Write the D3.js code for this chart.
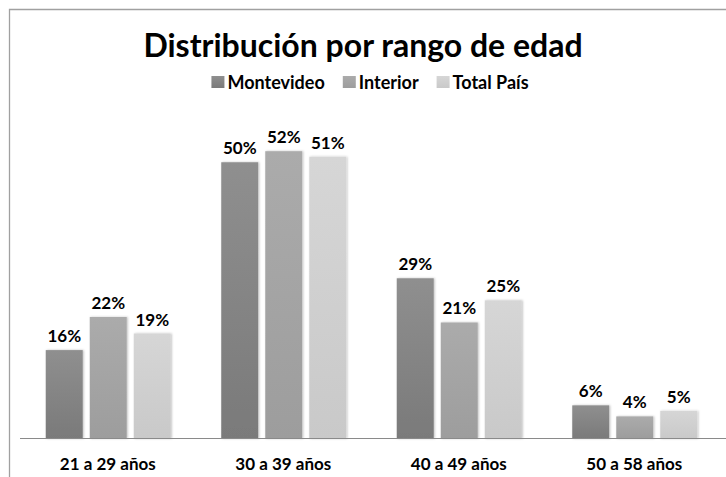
<!DOCTYPE html>
<html><head><meta charset="utf-8">
<script src="https://cdn.jsdelivr.net/npm/d3@7"></script>
<style>body{margin:0;background:#fff}svg{display:block;font-family:Lato,"Open Sans",sans-serif}</style>
</head><body>
<script>
const categories = ["21 a 29 años","30 a 39 años","40 a 49 años","50 a 58 años"];
const seriesNames = ["Montevideo","Interior","Total País"];
const montevideo = [16,50,29,6];
const interior = [22,52,21,4];
const totalPais = [19,51,25,5];
const seriesValues = [montevideo, interior, totalPais];
const colorsTop = ["#8f8f8f","#ababab","#d6d6d6"];
const colorsBot = ["#7a7a7a","#9d9d9d","#c9c9c9"];

const W=726,H=477;
const svg=d3.select("body").append("svg").attr("width",W).attr("height",H);
const defs=svg.append("defs");
seriesNames.forEach((s,i)=>{
  const g=defs.append("linearGradient").attr("id","g"+i).attr("x1",0).attr("y1",0).attr("x2",0).attr("y2",1);
  g.append("stop").attr("offset","0%").attr("stop-color",colorsTop[i]);
  g.append("stop").attr("offset","100%").attr("stop-color",colorsBot[i]);
});
const f=defs.append("filter").attr("id","sh").attr("x","-20%").attr("y","-10%").attr("width","140%").attr("height","120%");
f.append("feDropShadow").attr("dx",1).attr("dy",0).attr("stdDeviation",1.2).attr("flood-color","#000").attr("flood-opacity",0.25);

// border
svg.append("path").attr("d",`M9.5,${H} V9.5 H${W}`).attr("fill","none").attr("stroke","#a0a0a0").attr("stroke-width",1.3);

svg.append("text").attr("x",363).attr("y",57).attr("text-anchor","middle")
  .attr("font-size",32).attr("font-weight","bold").attr("fill","#000").text("Distribución por rango de edad");

// legend
const leg=svg.append("g");
let lx=0;
seriesNames.forEach((s,i)=>{
  leg.append("rect").attr("x",lx).attr("y",76).attr("width",13).attr("height",12).attr("fill","url(#g"+i+")");
  const t=leg.append("text").attr("x",lx+16).attr("y",89).attr("font-size",18).attr("font-weight","bold").text(s);
  lx+=16+t.node().getComputedTextLength()+18;
});
lx-=18;
leg.attr("transform",`translate(${370-lx/2},0)`);

const y=d3.scaleLinear().domain([0,60]).range([438.5,107]);
const x0=d3.scaleBand().domain(categories).range([20,722]).padding(0);
const x1=d3.scaleBand().domain(seriesNames).range([25.75,150.75]).paddingInner(0.16).paddingOuter(0);

const gs=svg.append("g").selectAll("g").data(categories).join("g").attr("transform",d=>`translate(${x0(d)},0)`);
gs.each(function(c,ci){
  const g=d3.select(this);
  seriesNames.forEach((s,si)=>{
    const v=seriesValues[si][ci];
    g.append("rect").attr("x",x1(s)).attr("y",y(v)).attr("width",x1.bandwidth()).attr("height",y(0)-y(v))
      .attr("fill","url(#g"+si+")").attr("filter","url(#sh)");
    g.append("text").attr("x",x1(s)+x1.bandwidth()/2).attr("y",y(v)-8).attr("text-anchor","middle")
      .attr("font-size",17).attr("font-weight","bold").attr("fill","#000").text(v+"%");
  });
});

const ax=svg.append("g").attr("transform","translate(0,438.5)").call(d3.axisBottom(x0).tickSize(0).tickPadding(19));
ax.select(".domain").attr("stroke","#8a8a8a").attr("stroke-width",1.2).attr("d","M20,0H726");
ax.selectAll("text").attr("font-size",17).attr("font-weight","bold").attr("fill","#000").attr("font-family",'Lato,"Open Sans",sans-serif');
</script>
</body></html>
